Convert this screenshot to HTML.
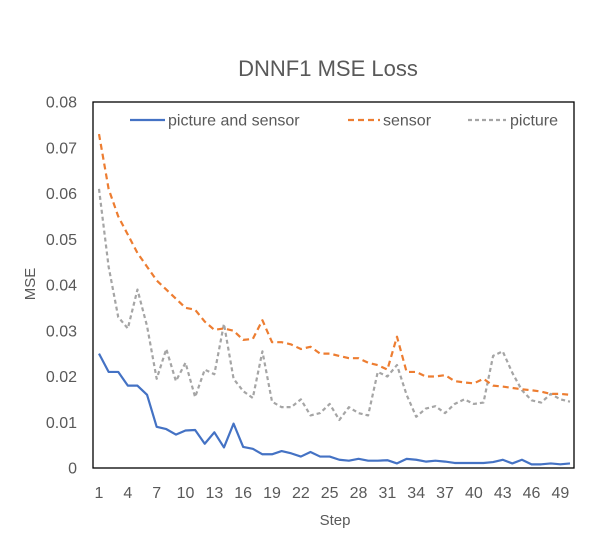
<!DOCTYPE html>
<html><head><meta charset="utf-8"><style>
body{margin:0;background:#fff;}
svg text{font-family:"Liberation Sans",sans-serif;}
</style></head><body>
<svg id="chart" width="593" height="547" xmlns="http://www.w3.org/2000/svg">
<rect width="593" height="547" fill="#fff"/>
<text x="328" y="76" font-size="22" fill="#595959" text-anchor="middle">DNNF1 MSE Loss</text>
<rect x="93" y="102" width="481" height="366" fill="none" stroke="#000" stroke-width="1.3"/>
<g id="yticks"></g>
<g id="xticks"></g>
<g id="series"></g>
<text x="335" y="525" font-size="15" fill="#595959" text-anchor="middle">Step</text>
<text x="0" y="0" font-size="15" fill="#595959" text-anchor="middle" transform="translate(35,284) rotate(-90)">MSE</text>
<g>
<g>
<line x1="130" y1="120" x2="165" y2="120" stroke="#4472C4" stroke-width="2.2"/>
<text x="168" y="125.5" font-size="16" fill="#595959">picture and sensor</text></g>
<g>
<line x1="348" y1="120" x2="380" y2="120" stroke="#ED7D31" stroke-width="2.2" stroke-dasharray="6,4"/>
<text x="383" y="125.5" font-size="16" fill="#595959">sensor</text></g>
<g>
<line x1="468" y1="120" x2="506" y2="120" stroke="#A5A5A5" stroke-width="2.2" stroke-dasharray="4,3"/>
<text x="510" y="125.5" font-size="16" fill="#595959">picture</text></g>
</g>
</svg>
<script>
const steps = Array.from({length:50},(_,i)=>i+1);
const xTickLabels = [1,4,7,10,13,16,19,22,25,28,31,34,37,40,43,46,49];
const yTickLabels = ["0","0.01","0.02","0.03","0.04","0.05","0.06","0.07","0.08"];
const yTickValues = [0,0.01,0.02,0.03,0.04,0.05,0.06,0.07,0.08];
const pictureAndSensor = [0.025,0.021,0.021,0.018,0.018,0.016,0.009,0.0085,0.0073,0.0082,0.0083,0.0053,0.0078,0.0045,0.0097,0.0046,0.0042,0.003,0.003,0.0037,0.0032,0.0025,0.0035,0.0025,0.0025,0.0018,0.0016,0.002,0.0016,0.0016,0.0017,0.001,0.002,0.0018,0.0014,0.0016,0.0014,0.0011,0.0011,0.0011,0.0011,0.0013,0.0018,0.001,0.0018,0.0008,0.0008,0.001,0.0008,0.001];
const sensor = [0.073,0.061,0.055,0.051,0.047,0.044,0.041,0.039,0.037,0.035,0.0346,0.032,0.0302,0.0305,0.030,0.028,0.0282,0.0323,0.0275,0.0275,0.027,0.026,0.0265,0.025,0.025,0.0245,0.024,0.024,0.023,0.0225,0.0215,0.0287,0.021,0.021,0.020,0.020,0.0203,0.019,0.0187,0.0185,0.0195,0.018,0.0178,0.0175,0.0172,0.017,0.0167,0.0162,0.0162,0.016];
const picture = [0.061,0.044,0.033,0.0305,0.039,0.031,0.0195,0.026,0.019,0.023,0.0155,0.0215,0.0205,0.0315,0.0195,0.0168,0.0153,0.0255,0.0145,0.0133,0.0133,0.015,0.0115,0.012,0.014,0.0105,0.0133,0.012,0.0115,0.021,0.02,0.0225,0.016,0.0112,0.013,0.0135,0.012,0.014,0.015,0.014,0.0143,0.0245,0.0255,0.0208,0.017,0.0148,0.0143,0.0162,0.015,0.0145];

const NS="http://www.w3.org/2000/svg";
function xScale(s){return 99+(s-1)*(471/49);}
function yScale(v){return 468-v*(366/0.08);}
const yt=document.getElementById('yticks');
yTickValues.forEach((v,i)=>{
  const t=document.createElementNS(NS,'text');
  
  
  t.setAttribute('x',77);t.setAttribute('y',yScale(v)+5.5);
  t.setAttribute('font-size','16');t.setAttribute('fill','#595959');t.setAttribute('text-anchor','end');
  t.textContent=yTickLabels[i];yt.appendChild(t);
});
const xt=document.getElementById('xticks');
xTickLabels.forEach(s=>{
  const t=document.createElementNS(NS,'text');
  
  
  t.setAttribute('x',xScale(s));t.setAttribute('y',498);
  t.setAttribute('font-size','16');t.setAttribute('fill','#595959');t.setAttribute('text-anchor','middle');
  t.textContent=s;xt.appendChild(t);
});
const sg=document.getElementById('series');
function line(data,color,dash,name){
  const p=document.createElementNS(NS,'polyline');
  
  
  p.setAttribute('points',data.map((v,i)=>xScale(steps[i])+','+yScale(v)).join(' '));
  p.setAttribute('fill','none');p.setAttribute('stroke',color);p.setAttribute('stroke-width','2.2');
  p.setAttribute('stroke-linejoin','round');
  if(dash)p.setAttribute('stroke-dasharray',dash);
  sg.appendChild(p);
}
line(picture,'#A5A5A5','4,3','picture-line');
line(sensor,'#ED7D31','6,4','sensor-line');
line(pictureAndSensor,'#4472C4',null,'picture-and-sensor-line');
</script>
</body></html>
